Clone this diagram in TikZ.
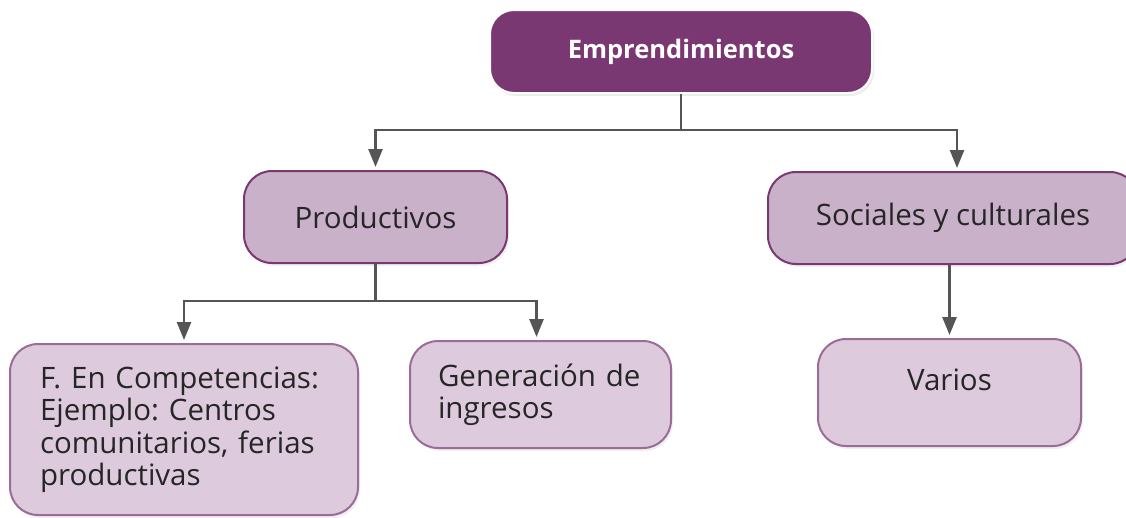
\documentclass[tikz,border=0pt]{standalone}
\usepackage{fontspec}
\setmainfont{Open Sans}
\usetikzlibrary{arrows.meta,shadows}
\definecolor{dpurple}{HTML}{7A3872}
\definecolor{mfill}{HTML}{C9B1CA}
\definecolor{lfill}{HTML}{DDCBDD}
\definecolor{lborder}{HTML}{9B6C98}
\definecolor{conn}{HTML}{555555}
\frenchspacing
\tikzset{
  topbox/.style={draw=white, line width=2pt, fill=dpurple, rounded corners=24pt, text=white, font=\fontsize{25.5}{30}\selectfont\bfseries, drop shadow={shadow xshift=2pt, shadow yshift=-3pt, opacity=0.15}},
  midbox/.style={draw=dpurple, line width=2pt, fill=mfill, rounded corners=28pt, text=black!85, font=\fontsize{29.5}{31}\selectfont, drop shadow={shadow xshift=2pt, shadow yshift=-3pt, opacity=0.12}},
  leafbox/.style={draw=lborder, line width=2pt, fill=lfill, rounded corners=28pt, text=black!85, font=\fontsize{29.5}{32.5}\selectfont, drop shadow={shadow xshift=2pt, shadow yshift=-3pt, opacity=0.12}},
  conn/.style={draw=conn, line width=2.6pt},
  arr/.style={conn, shorten >=3pt, -{Triangle[width=14pt,length=18pt]}},
}
\begin{document}
\begin{tikzpicture}[x=1pt,y=-1pt]
\useasboundingbox (0,0) rectangle (1126,517);
\node[topbox, minimum width=382pt, minimum height=83pt] (top) at (681,51.5) {Emprendimientos};
\node[midbox, minimum width=263pt, minimum height=92pt] (prod) at (375.5,217) {Productivos};
\node[midbox, minimum width=370pt, minimum height=92pt] (soc) at (953,218) {Sociales y culturales};
\node[leafbox, minimum width=348pt, minimum height=171pt, text width=288pt, align=left] (comp) at (184,429.5) {F. En Competencias:\\Ejemplo: Centros\\comunitarios, ferias\\productivas};
\node[leafbox, minimum width=261pt, minimum height=107pt, text width=205pt, align=left] (gen) at (540.5,394.5) {Generación de\\ingresos};
\node[leafbox, minimum width=263pt, minimum height=107pt] (var) at (949.5,392.5) {};
\node[font=\fontsize{29.5}{31}\selectfont, text=black!85] (vart) at (949.5,380) {Varios};
\coordinate (j1) at (681,130);
\coordinate (j2) at (375.5,301);
\draw[conn] (top.south) -- (j1);
\draw[arr] (j1) -| (prod.north);
\draw[arr] (j1) -| ([xshift=4pt]soc.north);
\draw[conn] (prod.south) -- (j2);
\draw[arr] (j2) -| (comp.north);
\draw[arr] (j2) -| ([xshift=-4pt]gen.north);
\draw[arr] (soc.south -| var.north) -- (var.north);
\end{tikzpicture}
\end{document}
